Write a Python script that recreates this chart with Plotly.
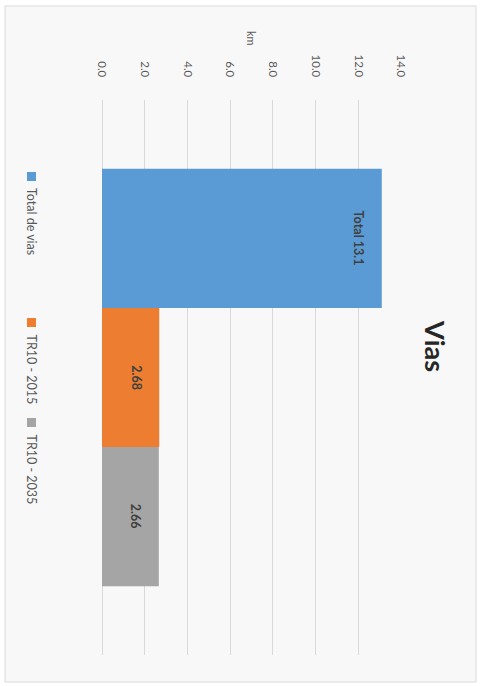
import plotly.graph_objects as go

# Road-length data (km)
series_names = ["Total de vias", "TR10 - 2015", "TR10 - 2035"]
series_values = [13.1, 2.68, 2.66]
label_prefixes = ["Total ", "", ""]
series_colors = ["#5b9bd5", "#ed7d31", "#a5a5a5"]
tick_values = [0, 2, 4, 6, 8, 10, 12, 14]
tick_labels = ["0.0", "2.0", "4.0", "6.0", "8.0", "10.0", "12.0", "14.0"]
chart_title = "Vias"
axis_title = "km"

FONT = "Lato, 'Liberation Sans', sans-serif"
W, H = 482, 686
PL, PR, PT, PB = 102, 81, 100, 31
PW, PH = W - PL - PR, H - PT - PB

fig = go.Figure()
for name, val, pre, col in zip(series_names, series_values, label_prefixes, series_colors):
    fig.add_trace(go.Bar(
        y=[name], x=[val], name=name, orientation="h",
        width=1.0,
        marker=dict(color=col, line=dict(width=0)),
        showlegend=False,
    ))
    # value label just inside the end of the bar
    fig.add_annotation(x=val, y=name, xref="x", yref="y",
                       text=f"<b>{pre}{val:g}</b>", textangle=90,
                       showarrow=False, xanchor="center", yanchor="middle",
                       xshift=-23,
                       font=dict(family=FONT, size=12.5, color="#404040"))

fig.update_layout(
    width=W, height=H,
    margin=dict(l=PL, r=PR, t=PT, b=PB),
    paper_bgcolor="#ffffff",
    plot_bgcolor="rgba(0,0,0,0)",
    barmode="overlay",
    font=dict(family=FONT, color="#595959"),
    xaxis=dict(
        side="top", range=[0, 14], tickvals=tick_values, ticktext=tick_labels,
        tickangle=90, showgrid=True, gridcolor="#d9d9d9", gridwidth=1,
        zeroline=True, zerolinecolor="#d9d9d9", zerolinewidth=1,
        showline=False, ticks="", ticklabelstandoff=20,
        tickfont=dict(family=FONT, size=11.5, color="#595959"),
    ),
    yaxis=dict(type="category", range=[2.995, -0.995], showticklabels=False,
               showgrid=False, zeroline=False, showline=False, ticks=""),
)


def px(x):
    return (x - PL) / PW


def py(y):
    return (H - PB - y) / PH


# Chart area background and border
fig.add_shape(type="rect", xref="paper", yref="paper", layer="below",
              x0=px(5), x1=px(476), y0=py(682), y1=py(6),
              fillcolor="#f8f8f8", line=dict(color="#d9d9d9", width=1))

# Title and axis title
fig.add_annotation(text=f"<b>{chart_title}</b>", textangle=90, showarrow=False,
                   xref="paper", yref="paper", x=px(436), y=py(346),
                   xanchor="center", yanchor="middle",
                   font=dict(family=FONT, size=27, color="#262626"))
fig.add_annotation(text=axis_title, textangle=90, showarrow=False,
                   xref="paper", yref="paper", x=px(252), y=py(38),
                   xanchor="center", yanchor="middle",
                   font=dict(family=FONT, size=11, color="#595959"))

# Legend, drawn along the left edge
legend_starts = [172, 318, 418]
for name, col, y0 in zip(series_names, series_colors, legend_starts):
    fig.add_shape(type="rect", xref="paper", yref="paper",
                  x0=px(27), x1=px(36), y0=py(y0), y1=py(y0 + 9),
                  fillcolor=col, line=dict(width=0))
    fig.add_annotation(text=name, textangle=90, showarrow=False,
                       xref="paper", yref="paper",
                       x=px(31.5), y=py(y0 + 14),
                       xanchor="center", yanchor="top",
                       font=dict(family=FONT, size=12.5, color="#595959"))

fig.write_html("out.html")
